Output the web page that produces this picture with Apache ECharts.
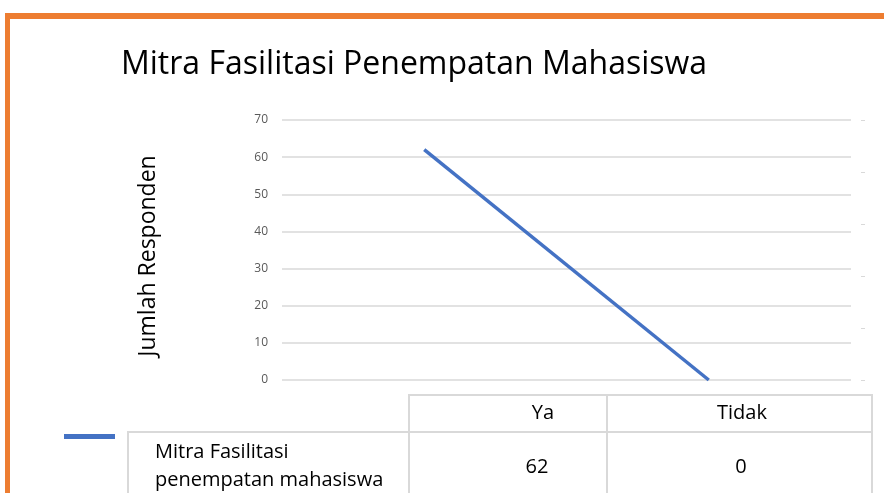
<!DOCTYPE html>
<html>
<head>
<meta charset="utf-8">
<script src="https://cdn.jsdelivr.net/npm/echarts@6/dist/echarts.min.js"></script>
<style>
html,body{margin:0;padding:0;background:#fff;}
#chart{width:884px;height:493px;}
</style>
</head>
<body>
<div id="chart"></div>
<script>
const categories = ['Ya', 'Tidak'];
const seriesName = 'Mitra Fasilitasi penempatan mahasiswa';
const seriesLabelLines = ['Mitra Fasilitasi', 'penempatan mahasiswa'];
const values = [62, 0];
const yTicks = [0, 10, 20, 30, 40, 50, 60, 70];
const titleText = 'Mitra Fasilitasi Penempatan Mahasiswa';
const yAxisName = 'Jumlah Responden';

const chart = echarts.init(document.getElementById('chart'));
const FONT = 'Open Sans';
const gridCol = '#d9d9d9';

// Data table (built from arrays)
const tbl = { left: 409, mid: 607, right: 872, top: 395, rowSep: 432, bottom: 500, rowLeft: 128 };
const colCentersHeader = [543, 742];
const colCentersValue = [537, 741];
const TF = '20px "' + FONT + '"';
const graphics = [
  { type: 'rect', shape: { x: 5, y: 13, width: 879, height: 6 }, style: { fill: '#ED7D31' }, z: 10 },
  { type: 'rect', shape: { x: 5, y: 13, width: 5, height: 480 }, style: { fill: '#ED7D31' }, z: 10 },
  // table borders
  { type: 'polyline', shape: { points: [[tbl.left, tbl.bottom], [tbl.left, tbl.top], [tbl.right, tbl.top], [tbl.right, tbl.bottom]] }, style: { stroke: gridCol, lineWidth: 2, fill: null } },
  { type: 'line', shape: { x1: tbl.mid, y1: tbl.top, x2: tbl.mid, y2: tbl.bottom }, style: { stroke: gridCol, lineWidth: 2 } },
  { type: 'polyline', shape: { points: [[tbl.rowLeft, tbl.bottom], [tbl.rowLeft, tbl.rowSep], [tbl.right, tbl.rowSep]] }, style: { stroke: gridCol, lineWidth: 2, fill: null } },
  // legend key
  { type: 'rect', shape: { x: 64, y: 434, width: 51, height: 5 }, style: { fill: '#4472C4' } },
  { type: 'text', x: 155, y: 452, style: { text: seriesLabelLines[0], font: TF, fill: '#000', textVerticalAlign: 'middle' } },
  { type: 'text', x: 155, y: 480, style: { text: seriesLabelLines[1], font: TF, fill: '#000', textVerticalAlign: 'middle' } }
];
categories.forEach((c, i) => {
  graphics.push({ type: 'text', x: colCentersHeader[i], y: 413, style: { text: c, font: TF, fill: '#000', textAlign: 'center', textVerticalAlign: 'middle' } });
  graphics.push({ type: 'text', x: colCentersValue[i], y: 467, style: { text: String(values[i]), font: TF, fill: '#000', textAlign: 'center', textVerticalAlign: 'middle' } });
});
graphics.push({ type: 'text', x: 148, y: 256, rotation: Math.PI / 2, style: { text: yAxisName, font: '23px "' + FONT + '"', fill: '#000', textAlign: 'center', textVerticalAlign: 'middle' } });

chart.setOption({
  animation: false,
  title: {
    text: titleText, left: 116, top: 44,
    textStyle: { fontFamily: FONT, fontSize: 32, fontWeight: 'normal', color: '#000' }
  },
  grid: { left: 282, right: 33, top: 120, bottom: 113 },
  xAxis: {
    type: 'category', data: categories, boundaryGap: true,
    axisLine: { show: false }, axisTick: { show: false }, axisLabel: { show: false }
  },
  yAxis: [{
    type: 'value', min: yTicks[0], max: yTicks[yTicks.length - 1], interval: 10,
    axisLine: { show: false }, axisTick: { show: false },
    axisLabel: { margin: 14, fontFamily: FONT, fontSize: 12, color: '#595959' },
    splitLine: { lineStyle: { color: gridCol, width: 1.5 } }
  }, {
    type: 'value', position: 'right', offset: 10, min: 0, max: 5, interval: 1,
    axisLine: { show: false }, axisLabel: { show: false }, splitLine: { show: false },
    axisTick: { show: true, length: 4, lineStyle: { color: gridCol } }
  }],
  series: [{
    name: seriesName, type: 'line', data: values, yAxisIndex: 0,
    symbol: 'none', lineStyle: { color: '#4472C4', width: 3.5 }
  }],
  graphic: graphics
});
</script>
</body>
</html>
